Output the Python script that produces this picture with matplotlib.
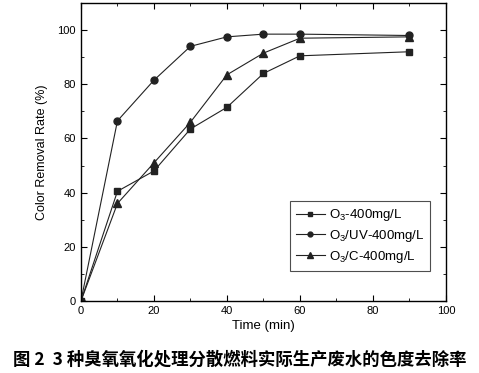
import matplotlib
matplotlib.use("Agg")
import matplotlib.pyplot as plt
from matplotlib.ticker import MultipleLocator

time = [0, 10, 20, 30, 40, 50, 60, 90]
o3 = [0, 40.5, 48, 63.5, 71.5, 84, 90.5, 92]
o3_uv = [0, 66.5, 81.5, 94, 97.5, 98.5, 98.5, 98]
o3_c = [0, 36, 51, 66, 83.5, 91.5, 97, 97.5]
labels = ["O$_3$-400mg/L", "O$_3$/UV-400mg/L", "O$_3$/C-400mg/L"]
caption = "图 2  3 种臭氧氧化处理分散燃料实际生产废水的色度去除率"

plt.rcParams['font.family'] = ['Liberation Sans', 'DejaVu Sans']
plt.rcParams['mathtext.fontset'] = 'custom'
plt.rcParams['mathtext.rm'] = 'Liberation Sans'

fig = plt.figure(figsize=(4.79, 3.73), dpi=100)
ax = fig.add_axes([0.169, 0.193, 0.762, 0.799])

ax.plot(time, o3, color='#222222', lw=0.8, marker='s', ms=5, label=labels[0])
ax.plot(time, o3_uv, color='#222222', lw=0.8, marker='o', ms=5, label=labels[1])
ax.plot(time, o3_c, color='#222222', lw=0.8, marker='^', ms=5.5, label=labels[2])

ax.set_xlim(0, 100)
ax.set_ylim(0, 110)
ax.xaxis.set_major_locator(MultipleLocator(20))
ax.xaxis.set_minor_locator(MultipleLocator(10))
ax.yaxis.set_major_locator(MultipleLocator(20))
ax.yaxis.set_minor_locator(MultipleLocator(10))
ax.tick_params(which='both', direction='in', top=True, right=True, labelsize=8)
ax.tick_params(which='major', length=4)
ax.tick_params(which='minor', length=2)
for s in ax.spines.values():
    s.set_linewidth(1.0)

ax.set_xlabel("Time (min)", fontsize=9.5, labelpad=3)
ax.set_ylabel("Color Removal Rate (%)", fontsize=9, labelpad=7)

leg = ax.legend(loc='lower right', bbox_to_anchor=(0.975, 0.08), fontsize=9.5,
                frameon=True, fancybox=False, edgecolor='#222222',
                handlelength=2.2, borderpad=0.45, labelspacing=0.35,
                handletextpad=0.3, markerscale=0.7)
leg.get_frame().set_linewidth(0.8)

fig.text(0.5, 0.035, caption, ha='center', va='center', fontsize=12.5,
         fontweight='bold', family=['Noto Sans CJK SC', 'DejaVu Sans'])

fig.savefig("out.png", dpi=100)
